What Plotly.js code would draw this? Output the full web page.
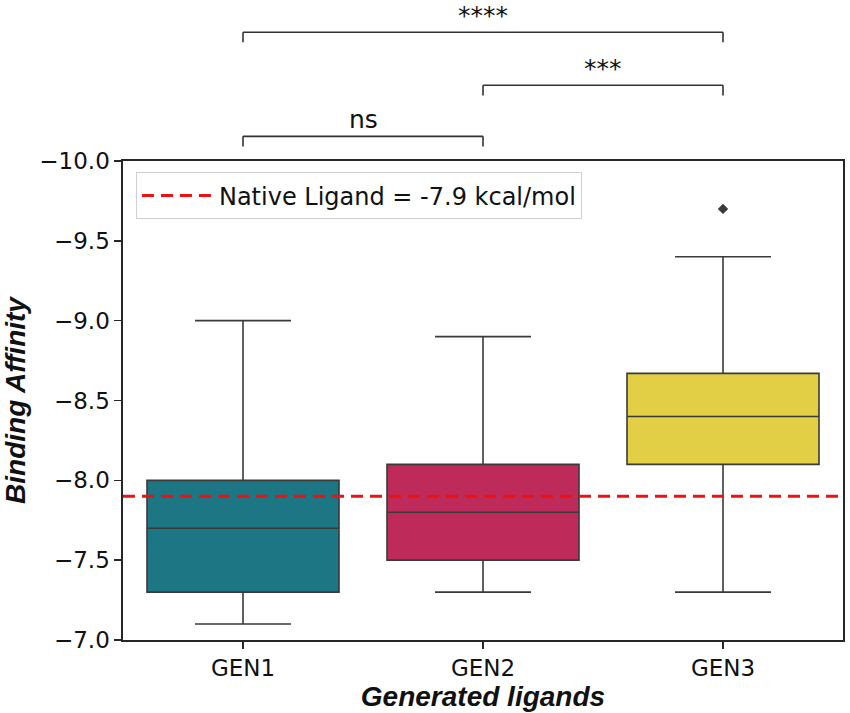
<!DOCTYPE html>
<html><head><meta charset="utf-8">
<script src="https://cdn.plot.ly/plotly-3.0.1.min.js"></script>
<style>html,body{margin:0;padding:0;background:#fff;}#chart{width:850px;height:713px;}</style>
</head><body><div id="chart"></div>
<script>
const categories = ['GEN1', 'GEN2', 'GEN3'];
// numeric ordering: min <= q1 <= median <= q3 <= max
const minVal = [-9.0, -8.9, -9.4];
const q1 = [-8.0, -8.1, -8.67];
const median = [-7.7, -7.8, -8.4];
const q3 = [-7.3, -7.5, -8.1];
const maxVal = [-7.1, -7.3, -7.3];
const outlierCat = ['GEN3'];
const outlierVal = [-9.7];
const boxColors = ['#1d7683', '#be2b5b', '#e2cf46'];
const nativeLigand = -7.9;
const nativeLabel = 'Native Ligand = -7.9 kcal/mol';
const comparisons = [
  {a: 'GEN1', b: 'GEN2', label: 'ns', level: 0},
  {a: 'GEN2', b: 'GEN3', label: '***', level: 1},
  {a: 'GEN1', b: 'GEN3', label: '****', level: 2}
];
const yTicks = [-10.0, -9.5, -9.0, -8.5, -8.0, -7.5, -7.0];

const traces = categories.map((c, i) => ({
  type: 'box', x: [c], q1: [q1[i]], median: [median[i]], q3: [q3[i]],
  lowerfence: [minVal[i]], upperfence: [maxVal[i]],
  fillcolor: boxColors[i], line: {color: '#3a3a3a', width: 1.6},
  width: 0.8, whiskerwidth: 0.5, showlegend: false, hoverinfo: 'skip'
}));
traces.push({
  type: 'scatter', mode: 'markers', x: outlierCat, y: outlierVal,
  marker: {symbol: 'diamond', size: 8, color: '#3a3a3a'}, showlegend: false
});
traces.push({
  type: 'scatter', mode: 'lines', xaxis: 'x2', yaxis: 'y',
  x: [0, 1], y: [nativeLigand, nativeLigand],
  line: {color: '#ee1111', width: 3, dash: '12px,7px'},
  name: nativeLabel, showlegend: true
});

const levelY = [1.0515, 1.158, 1.2688];
const tickLen = 0.021;
const shapes = [];
const annotations = [];
comparisons.forEach(cmp => {
  const y = levelY[cmp.level];
  const ln = {color: '#333', width: 1.6};
  shapes.push({type: 'line', xref: 'x', yref: 'paper', x0: cmp.a, x1: cmp.b, y0: y, y1: y, line: ln});
  shapes.push({type: 'line', xref: 'x', yref: 'paper', x0: cmp.a, x1: cmp.a, y0: y, y1: y - tickLen, line: ln});
  shapes.push({type: 'line', xref: 'x', yref: 'paper', x0: cmp.b, x1: cmp.b, y0: y, y1: y - tickLen, line: ln});
  const ia = categories.indexOf(cmp.a), ib = categories.indexOf(cmp.b);
  annotations.push({xref: 'x', yref: 'paper', x: (ia + ib) / 2, y: y, yanchor: 'bottom',
    text: cmp.label, showarrow: false, font: {family: 'DejaVu Sans', size: 25, color: '#111'}});
});

const layout = {
  width: 850, height: 713,
  margin: {l: 123, r: 7, t: 161, b: 73},
  paper_bgcolor: '#fff', plot_bgcolor: '#fff',
  xaxis: {type: 'category', categoryorder: 'array', categoryarray: categories,
    range: [-0.5, 2.5], showline: true, mirror: true, linecolor: '#262626', linewidth: 1.6,
    ticks: 'outside', ticklen: 7, tickwidth: 1.6, tickcolor: '#262626',
    tickfont: {family: 'DejaVu Sans', size: 23, color: '#111'}, showgrid: false, zeroline: false,
    title: {text: '<b><i>Generated ligands</i></b>', standoff: 2,
      font: {family: 'Liberation Sans, Arial', size: 28, color: '#111'}}},
  xaxis2: {overlaying: 'x', range: [0, 1], visible: false, fixedrange: true},
  yaxis: {range: [-7, -10], tickvals: yTicks, tickformat: '.1f',
    showline: true, mirror: true, linecolor: '#262626', linewidth: 1.6,
    ticks: 'outside', ticklen: 7, tickwidth: 1.6, tickcolor: '#262626',
    tickfont: {family: 'DejaVu Sans', size: 23, color: '#111'}, showgrid: false, zeroline: false,
    title: {text: '<b><i>Binding Affinity</i></b>', standoff: 12,
      font: {family: 'Liberation Sans, Arial', size: 28, color: '#111'}}},
  legend: {x: 0.018, y: 0.976, xanchor: 'left', yanchor: 'top',
    bgcolor: 'rgba(255,255,255,0.8)', bordercolor: '#d0d0d0', borderwidth: 1,
    font: {family: 'DejaVu Sans', size: 24, color: '#111'}, itemwidth: 72},
  shapes: shapes, annotations: annotations, showlegend: true
};
Plotly.newPlot('chart', traces, layout, {displayModeBar: false, staticPlot: true});
</script></body></html>
